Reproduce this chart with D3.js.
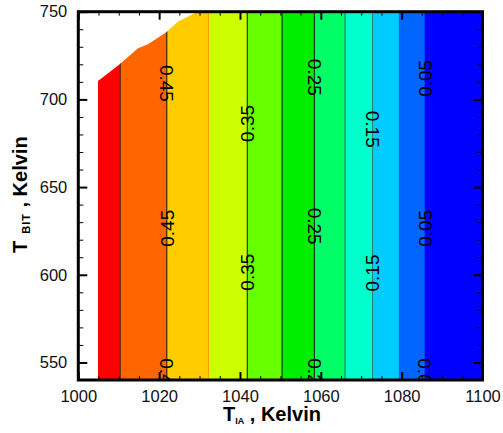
<!DOCTYPE html>
<html>
<head>
<meta charset="utf-8">
<script src="https://cdn.jsdelivr.net/npm/d3@7/dist/d3.min.js"></script>
<style>
  html, body { margin: 0; padding: 0; background: #fff; }
  svg { display: block; }
</style>
</head>
<body>
<script>
// ---------------- data ----------------
const xTicks = [1000, 1020, 1040, 1060, 1080, 1100];
const yTicks = [550, 600, 650, 700, 750];
const xMinorTicks = d3.range(1005, 1100, 5).filter(v => v % 20 !== 0);
const yMinorTicks = d3.range(560, 750, 10).filter(v => v % 50 !== 0);

// contour levels and the T_IA where each level line sits (field varies with T_IA only)
const levels   = [0.5, 0.45, 0.4, 0.35, 0.3, 0.25, 0.2, 0.15, 0.1, 0.05];
const levelTIA = [1010.4, 1021.9, 1032.2, 1041.8, 1050.4, 1058.4, 1066.0, 1072.8, 1079.3, 1085.7];
const bandColors = ["#ff0000", "#ff6600", "#ffcc00", "#ccff00", "#66ff00", "#00ee00",
                    "#00ff66", "#00ffcc", "#00ccff", "#0066ff", "#0000ff"];

// edge of the computed region (upper-left boundary)
const edgeTIA  = [1004.87, 1010.24, 1014.77, 1017.24, 1021.77, 1024.67, 1028.80, 1029.37];
const edgeTBIT = [710.55, 720.07, 729.19, 731.47, 738.31, 744.41, 749.14, 750];

// contour labels
const labelLevel = [0.45, 0.35, 0.25, 0.15, 0.05, 0.45, 0.35, 0.25, 0.15, 0.05, 0.45, 0.25, 0.05];
const labelTBIT  = [709.1, 686.3, 712.6, 683.0, 712.0, 626.5, 601.5, 627.7, 601.0, 626.5, 541.9, 541.9, 541.9];

// ---------------- drawing ----------------
const W = 503, H = 433;
const x = d3.scaleLinear().domain([1000, 1100]).range([78.3, 482.5]);
const y = d3.scaleLinear().domain([540, 750]).range([380, 11.7]);
const FONT = "'Liberation Sans', Arial, Helvetica, sans-serif";

const svg = d3.select("body").append("svg").attr("width", W).attr("height", H);
const defs = svg.append("defs");

// plot area clip
defs.append("clipPath").attr("id", "plotClip").append("rect")
  .attr("x", x(1000)).attr("y", y(750))
  .attr("width", x(1100) - x(1000)).attr("height", y(540) - y(750));

// data domain clip
const domainPts = [[edgeTIA[0], 540]]
  .concat(edgeTIA.map((t, i) => [t, edgeTBIT[i]]))
  .concat([[1100, 750], [1100, 540]]);
defs.append("clipPath").attr("id", "domainClip").append("path")
  .attr("d", d3.line().x(d => x(d[0])).y(d => y(d[1]))(domainPts) + "Z");

const plot = svg.append("g").attr("clip-path", "url(#plotClip)");
const field = plot.append("g").attr("clip-path", "url(#domainClip)");

// colour bands
const bandEdges = [1000].concat(levelTIA).concat([1100]);
field.selectAll("rect.band").data(bandColors).join("rect")
  .attr("class", "band")
  .attr("x", (d, i) => x(bandEdges[i]))
  .attr("width", (d, i) => x(bandEdges[i + 1]) - x(bandEdges[i]) + 0.3)
  .attr("y", y(750)).attr("height", y(540) - y(750))
  .attr("fill", d => d);

// contour lines
const lineColors = ["#5a2600", "#111", "#f59a00", "#111", "#111", "#111", "#2a6a58", "#2a7a7a", null, null];
field.selectAll("line.contour").data(levels.filter((l, i) => lineColors[i]))
  .join("line")
  .attr("class", "contour")
  .attr("x1", l => x(levelTIA[levels.indexOf(l)]))
  .attr("x2", l => x(levelTIA[levels.indexOf(l)]))
  .attr("y1", y(540)).attr("y2", y(750))
  .attr("stroke", l => lineColors[levels.indexOf(l)])
  .attr("stroke-width", 1);

// contour labels
const labelDir = [90, -90, 90, 90, -90, -90, -90, 90, -90, -90, 90, 90, 90];
plot.selectAll("text.clabel").data(labelLevel).join("text")
  .attr("class", "clabel")
  .attr("transform", (l, i) => `translate(${x(levelTIA[levels.indexOf(l)])},${y(labelTBIT[i])}) rotate(${labelDir[i]})`)
  .attr("text-anchor", "middle")
  .attr("dy", "0.36em")
  .attr("font-family", FONT)
  .attr("font-size", "19px")
  .attr("fill", "#000")
  .text(l => l.toFixed(2));

// axes (ticks inward)
function styleAxis(g, w) {
  g.select(".domain").remove();
  g.selectAll(".tick line").attr("stroke", "#000").attr("stroke-width", w);
}
svg.append("g").attr("transform", `translate(0,${y(540)})`)
  .call(d3.axisBottom(x).tickValues(xTicks).tickSize(-8).tickPadding(10).tickFormat(d3.format("d")))
  .call(g => styleAxis(g, 2))
  .call(g => g.selectAll("text").attr("font-family", FONT).attr("font-size", "16.5px").attr("fill", "#111"));
svg.append("g").attr("transform", `translate(0,${y(540)})`)
  .call(d3.axisBottom(x).tickValues(xMinorTicks).tickSize(-4).tickFormat(""))
  .call(g => styleAxis(g, 1));
svg.append("g").attr("transform", `translate(0,${y(750)})`)
  .call(d3.axisTop(x).tickValues(xTicks).tickSize(-8).tickFormat(""))
  .call(g => styleAxis(g, 2));
svg.append("g").attr("transform", `translate(0,${y(750)})`)
  .call(d3.axisTop(x).tickValues(xMinorTicks).tickSize(-4).tickFormat(""))
  .call(g => styleAxis(g, 1));

svg.append("g").attr("transform", `translate(${x(1000)},0)`)
  .call(d3.axisLeft(y).tickValues(yTicks).tickSize(-9).tickPadding(11).tickFormat(d3.format("d")))
  .call(g => styleAxis(g, 2))
  .call(g => g.selectAll("text").attr("font-family", FONT).attr("font-size", "16.5px").attr("fill", "#111"));
svg.append("g").attr("transform", `translate(${x(1000)},0)`)
  .call(d3.axisLeft(y).tickValues(yMinorTicks).tickSize(-5).tickFormat(""))
  .call(g => styleAxis(g, 1));
svg.append("g").attr("transform", `translate(${x(1100)},0)`)
  .call(d3.axisRight(y).tickValues(yTicks).tickSize(-9).tickFormat(""))
  .call(g => styleAxis(g, 2));
svg.append("g").attr("transform", `translate(${x(1100)},0)`)
  .call(d3.axisRight(y).tickValues(yMinorTicks).tickSize(-5).tickFormat(""))
  .call(g => styleAxis(g, 1));

// frame
svg.append("rect")
  .attr("x", x(1000)).attr("y", y(750))
  .attr("width", x(1100) - x(1000)).attr("height", y(540) - y(750))
  .attr("fill", "none").attr("stroke", "#000").attr("stroke-width", 3);

// axis titles
const xt = svg.append("text").attr("x", 223).attr("y", 421)
  .attr("font-family", FONT).attr("font-weight", "bold").attr("font-size", "20px").attr("fill", "#000");
xt.append("tspan").text("T");
xt.append("tspan").attr("font-size", "9px").attr("dy", 3).text("IA");
xt.append("tspan").attr("dy", -3).text(" , Kelvin");

const yt = svg.append("text").attr("transform", "translate(27,253) rotate(-90)")
  .attr("font-family", FONT).attr("font-weight", "bold").attr("font-size", "20px").attr("fill", "#000");
yt.append("tspan").text("T");
yt.append("tspan").attr("font-size", "11px").attr("dx", 7).attr("dy", 3).attr("letter-spacing", "1px").text("BIT");
yt.append("tspan").attr("dy", -3).text(" , Kelvin");
</script>
</body>
</html>
